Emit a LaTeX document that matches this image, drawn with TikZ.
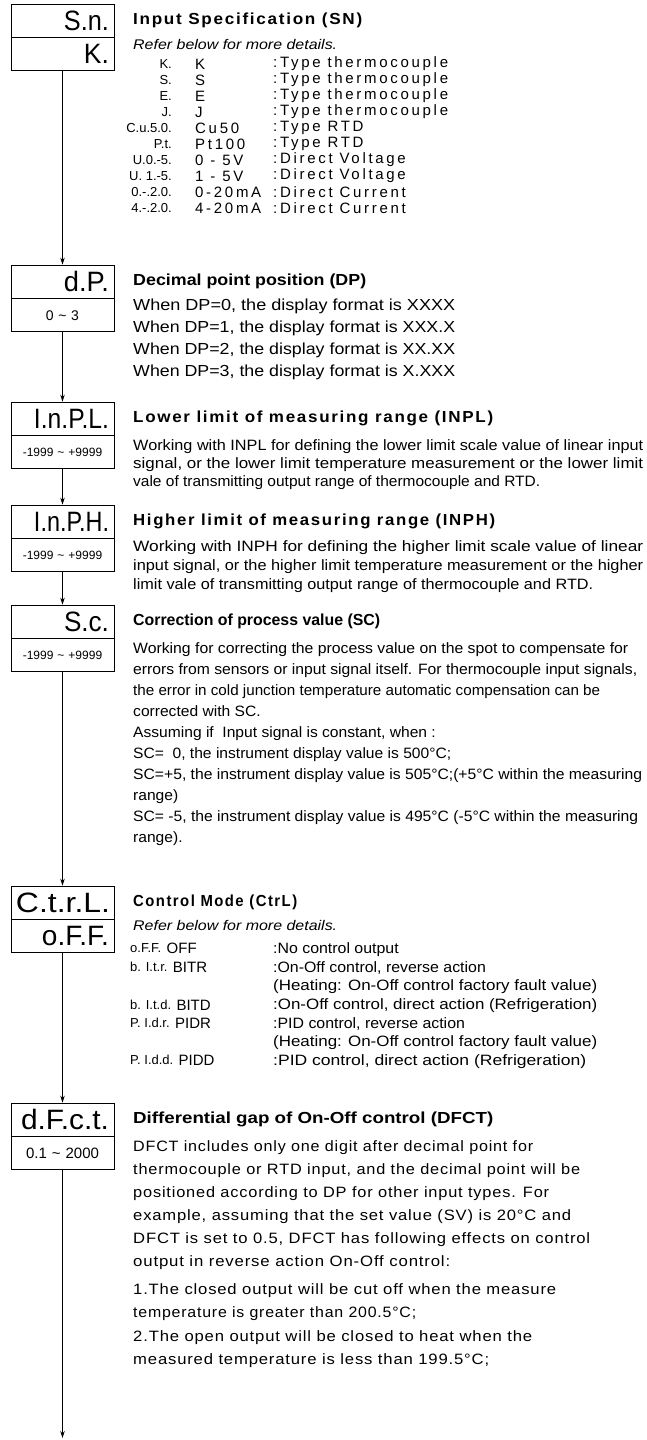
\documentclass[tikz,border=0pt]{standalone}
\usepackage{fontspec}
\setmainfont{Liberation Sans}
\newfontfamily\ttlsp[LetterSpace=10]{Liberation Sans}
\newfontfamily\lstsp[LetterSpace=18]{Liberation Sans}
\newfontfamily\dfcsp[LetterSpace=5]{Liberation Sans}
\usepackage{graphicx}
\usetikzlibrary{arrows.meta,positioning}
% stretch one line of text to a width (pt), height kept
\newcommand\fitline[2]{\resizebox{#1pt}{\height}{#2}}
% widen a line by a factor, height kept
\newcommand\widen[2]{\scalebox{#1}[1]{#2}}

\begin{document}
\begin{tikzpicture}[x=1pt, y=-1pt,
    seg/.style={draw, line width=0.8pt, minimum width=103pt, minimum height=33pt,
      inner xsep=5pt, inner ysep=0pt, text width=93pt, align=right,
      font=\fontsize{28}{28}\selectfont},
    rng/.style={draw, line width=0.8pt, minimum width=103pt, minimum height=33pt,
      inner sep=0pt, text width=103pt, align=center},
    ttl/.style={anchor=west, inner sep=0pt, font=\fontsize{16}{16}\selectfont\bfseries},
    ttlwide/.style={anchor=west, inner sep=0pt, font=\fontsize{16}{16}\ttlsp\bfseries},
    txt/.style={anchor=north west, inner sep=0pt, align=left},
    lcode/.style={inner sep=0pt, font=\fontsize{13}{13}\selectfont},
    litem/.style={anchor=west, inner sep=0pt, font=\fontsize{15}{15}\lstsp},
    flow/.style={line width=0.8pt, -{Stealth[length=7pt,width=4.5pt]}}]
    \useasboundingbox (0,0) rectangle (647,1440);

    % display boxes
    \node[seg] (sn) at (62.5,20.5) {\fitline{45}{S.n.}};
    \node[seg, below=0pt of sn] (snval) {\fitline{25}{K.}};
    \node[seg] (dp) at (62.5,281.5) {\fitline{45}{d.P.}};
    \node[rng, below=0pt of dp, font=\fontsize{14}{14}\selectfont] (dpval) {0 \textasciitilde{} 3};
    \node[seg] (inpl) at (62.5,418.5) {\fitline{75}{I.n.P.L.}};
    \node[rng, below=0pt of inpl, font=\fontsize{12}{12}\selectfont] (inplval) {-1999 \textasciitilde{} +9999};
    \node[seg] (inph) at (62.5,521.5) {\fitline{75}{I.n.P.H.}};
    \node[rng, below=0pt of inph, font=\fontsize{12}{12}\selectfont] (inphval) {-1999 \textasciitilde{} +9999};
    \node[seg] (sc) at (62.5,621.5) {\fitline{45}{S.c.}};
    \node[rng, below=0pt of sc, font=\fontsize{12}{12}\selectfont] (scval) {-1999 \textasciitilde{} +9999};
    \node[seg] (ctrl) at (62.5,902.5) {\fitline{94}{C.t.r.L.}};
    \node[seg, below=0pt of ctrl] (ctrlval) {\fitline{67}{o.F.F.}};
    \node[seg] (dfct) at (62.5,1119.5) {\fitline{88}{d.F.c.t.}};
    \node[rng, below=0pt of dfct, font=\fontsize{15}{15}\selectfont] (dfctval) {0.1 \textasciitilde{} 2000};
    \coordinate (end) at (62.5,1438);

    \draw[flow] (snval) -- (dp);
    \draw[flow] (dpval) -- (inpl);
    \draw[flow] (inplval) -- (inph);
    \draw[flow] (inphval) -- (sc);
    \draw[flow] (scval) -- (ctrl);
    \draw[flow] (ctrlval) -- (dfct);
    \draw[flow] (dfctval) -- (end);

    % input specification
    \node[ttlwide] (snttl) at (133,20.5) {\fitline{229}{Input Specification (SN)}};
    \node[anchor=west, inner sep=0pt, font=\fontsize{14}{14}\itshape] (snref) at (133,44)
      {\fitline{204}{Refer below for more details.}};
    \foreach \cd/\nm/\ds [count=\i] in {K./K/{:Type thermocouple}, S./S/{:Type thermocouple},
        E./E/{:Type thermocouple}, J./J/{:Type thermocouple}, C.u.5.0./Cu50/{:Type RTD},
        P.t./Pt100/{:Type RTD}, U.0.-5./{0 - 5V}/{:Direct Voltage}, {U. 1.-5.}/{1 - 5V}/{:Direct Voltage},
        0.-.2.0./0-20mA/{:Direct Current}, 4.-.2.0./4-20mA/{:Direct Current}}{
      \node[lcode, anchor=east] (sncode\i) at (172,48+16*\i) {\cd};
      \node[litem] (snname\i) at (195,48+16*\i) {\nm};
      \node[litem] (sndesc\i) at (273,48+16*\i) {\ds};
    }

    % decimal point
    \node[ttl] (dpttl) at (133,281.5) {\fitline{233}{Decimal point position (DP)}};
    \node[txt, font=\fontsize{16}{22}\selectfont] (dptxt) at (133,298.5) {%
      \fitline{322}{When DP=0, the display format is XXXX}\\
      \fitline{322}{When DP=1, the display format is XXX.X}\\
      \fitline{322}{When DP=2, the display format is XX.XX}\\
      \fitline{322}{When DP=3, the display format is X.XXX}};

    % lower limit
    \node[ttlwide] (inplttl) at (133,418.5) {\fitline{360}{Lower limit of measuring range (INPL)}};
    \node[txt, font=\fontsize{15}{18}\selectfont] (inpltxt) at (133,439.5) {%
      \fitline{510}{Working with INPL for defining the lower limit scale value of linear input}\\
      \fitline{510}{signal, or the lower limit temperature measurement or the lower limit}\\
      \fitline{407}{vale of transmitting output range of thermocouple and RTD.}};

    % higher limit
    \node[ttlwide] (inphttl) at (133,521.5) {\fitline{362}{Higher limit of measuring range (INPH)}};
    \node[txt, font=\fontsize{15}{19}\selectfont] (inphtxt) at (133,540.5) {%
      \fitline{510}{Working with INPH for defining the higher limit scale value of linear}\\
      \fitline{510}{input signal, or the higher limit temperature measurement or the higher}\\
      \fitline{460}{limit vale of transmitting output range of thermocouple and RTD.}};

    % correction
    \node[ttl] (scttl) at (133,621.5) {\fitline{247}{Correction of process value (SC)}};
    \node[txt, font=\fontsize{15}{21}\selectfont] (sctxt) at (133,642.5) {%
      \fitline{495}{Working for correcting the process value on the spot to compensate for}\\
      \fitline{504}{errors from sensors or input signal itself. For thermocouple input signals,}\\
      \fitline{467}{the error in cold junction temperature automatic compensation can be}\\
      \widen{1.04}{corrected with SC.}\\
      \widen{1.04}{Assuming if\ \ Input signal is constant, when :}\\
      \widen{1.04}{SC=\ \ 0, the instrument display value is 500°C;}\\
      \fitline{509}{SC=+5, the instrument display value is 505°C;(+5°C within the measuring}\\
      \widen{1.04}{range)}\\
      \fitline{505}{SC= -5, the instrument display value is 495°C (-5°C within the measuring}\\
      \widen{1.04}{range).}};

    % control mode
    \node[ttlwide] (ctrlttl) at (133,902.5) {\fitline{164}{Control Mode (CtrL)}};
    \node[anchor=west, inner sep=0pt, font=\fontsize{14}{14}\itshape] (ctrlref) at (133,925)
      {\fitline{204}{Refer below for more details.}};
    \foreach \y/\cd/\nm [count=\i] in {948/o.F.F./OFF, 967/{b. I.t.r.}/BITR, 1005/{b. I.t.d.}/BITD,
        1023/{P. I.d.r.}/PIDR, 1060/{P. I.d.d.}/PIDD}{
      \node[lcode, anchor=west] (modecode\i) at (130,\y) {\cd};
      \node[anchor=west, inner sep=0pt, font=\fontsize{15}{15}\selectfont] (modename\i)
        at ([xshift=5pt]modecode\i.east) {\nm};
    }
    \node[txt, font=\fontsize{15}{18.67}\selectfont] (ctrltxt) at (273,942.5) {%
      \widen{1.06}{:No control output}\\
      \widen{1.06}{:On-Off control, reverse action}\\
      \fitline{324}{(Heating: On-Off control factory fault value)}\\
      \fitline{324}{:On-Off control, direct action (Refrigeration)}\\
      \widen{1.06}{:PID control, reverse action}\\
      \fitline{324}{(Heating: On-Off control factory fault value)}\\
      \fitline{313}{:PID control, direct action (Refrigeration)}};

    % differential gap
    \node[ttl] (dfctttl) at (133,1119.5) {\fitline{360}{Differential gap of On-Off control (DFCT)}};
    \node[txt, font=\fontsize{15}{23}\dfcsp] (dfcttxt) at (133,1140.5) {%
      \fitline{400}{DFCT includes only one digit after decimal point for}\\
      \fitline{447}{thermocouple or RTD input, and the decimal point will be}\\
      \fitline{416}{positioned according to DP for other input types. For}\\
      \fitline{438}{example, assuming that the set value (SV) is 20°C and}\\
      \fitline{457}{DFCT is set to 0.5, DFCT has following effects on control}\\
      \fitline{317}{output in reverse action On-Off control:}};
    \node[txt, font=\fontsize{15}{23.3}\dfcsp] (dfctcase) at (133,1283.5) {%
      \fitline{423}{1.The closed output will be cut off when the measure}\\
      \fitline{283}{temperature is greater than 200.5°C;}\\
      \fitline{399}{2.The open output will be closed to heat when the}\\
      \fitline{356}{measured temperature is less than 199.5°C;}};
\end{tikzpicture}
\end{document}
